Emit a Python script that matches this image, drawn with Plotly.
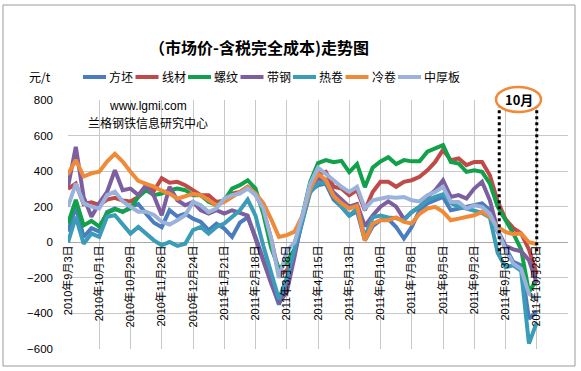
import plotly.graph_objects as go
from datetime import date, timedelta

# ---- categories (weekly) ----
start = date(2010, 9, 3)
categories = [f"{d.year}年{d.month}月{d.day}日" for d in (start + timedelta(weeks=k) for k in range(61))]
tick_labels = ["2010年9月3日", "2010年10月1日", "2010年10月29日", "2010年11月26日",
               "2010年12月24日", "2011年1月21日", "2011年2月18日", "2011年3月18日",
               "2011年4月15日", "2011年5月13日", "2011年6月10日", "2011年7月8日",
               "2011年8月5日", "2011年9月2日", "2011年9月30日", "2011年10月28日"]
y_ticks = [-600, -400, -200, 0, 200, 400, 600, 800]

# ---- series values (元/t) ----
fangpi = [60, 200, 30, 80, 60, 170, 190, 170, 200, 215, 160, 110, 85, 180, 145,
          161, 133, 114, 68, 105, 77, 30, 110, 140, 30,
          -100, -230, -350, -230, -60, 130, 290, 320,
          330, 240, 200, 150, 175, 10, 90, 124,
          130, 86, 21, 86, 180, 218, 236, 255,
          180, 190, 199, 208, 218, 180, 60, -30,
          -110, -130, -430, -390]
xiancai = [300, 330, 215, 225, 210, 240, 250, 235, 230, 255, 320, 290, 360, 335, 340,
           321, 293, 265, 265, 227, 235, 274, 283, 312, 275,
           180, 20, -180, -160, -60, 140, 320, 385,
           396, 312, 302, 265, 293, 180, 283, 340,
           340, 312, 340, 349, 368, 405, 452, 520,
           462, 471, 434, 452, 452, 377, 230, 130,
           80, 50, -40, -180]
luowen = [105, 238, 95, 120, 88, 165, 185, 172, 190, 255, 293, 265, 274, 293, 302,
          293, 265, 265, 227, 208, 236, 302, 321, 349, 302,
          160, -30, -150, -110, -40, 150, 340, 445,
          462, 450, 458, 395, 440, 310, 420, 455,
          478, 440, 462, 455, 455, 509, 527, 546,
          452, 443, 396, 405, 396, 330, 200, 130,
          50, -40, -280, -210]
daigang = [312, 537, 255, 143, 220, 283, 405, 293, 302, 265, 321, 260, 152, 312, 236,
           208, 227, 180, 161, 180, 161, 180, 165, 150, 20,
           -110, -230, -340, -280, -80, 140, 300, 360,
           350, 280, 240, 200, 215, 90, 150, 200,
           230, 200, 130, 170, 199, 255, 293, 349,
           255, 265, 246, 302, 340, 236, 68, -20,
           -40, -50, -100, -230]
rejuan = [0, 143, -8, 49, 30, 143, 152, 96, 49, 86, 49, 11, -17, 2, -20,
          -8, 68, 86, 49, 86, 105, 143, 180, 240, 150,
          -20, -180, -320, -200, -50, 120, 280, 330,
          340, 260, 200, 150, 190, 30, 140, 150,
          140, 135, 124, 170, 200, 236, 255, 270,
          220, 200, 190, 180, 165, 140, -60, -140,
          -130, -160, -570, -450]
lengjuan = [383, 463, 370, 388, 397, 454, 497, 454, 397, 345, 328, 313, 290, 274, 245,
            260, 272, 265, 236, 208, 227, 255, 283, 310, 275,
            220, 130, 30, 40, 60, 150, 300, 385,
            350, 260, 220, 190, 205, 10, 105, 124,
            124, 140, 115, 105, 160, 190, 199, 171,
            124, 133, 143, 152, 171, 143, 86, 58,
            45, 50, 0, -10]
zhonghouban = [200, 330, 220, 200, 190, 265, 285, 230, 200, 172, 172, 154, 115, 100, 124,
               152, 227, 208, 170, 190, 246, 265, 274, 302, 265,
               190, 20, -200, -50, 0, 150, 330, 420,
               387, 349, 312, 283, 312, 190, 236, 246,
               255, 250, 255, 236, 230, 265, 283, 312,
               227, 227, 190, 208, 199, 161, 68, -40,
               -120, -150, -290, -320]

series_names = ["方坯", "线材", "螺纹", "带钢", "热卷", "冷卷", "中厚板"]
series_values = [fangpi, xiancai, luowen, daigang, rejuan, lengjuan, zhonghouban]
series_colors = ["#4A7CBE", "#BE4B48", "#12A14B", "#7D5FA0", "#3A9CB8", "#F08A38", "#9BB3DC"]

FONT = "Liberation Sans, Noto Sans CJK SC, sans-serif"
CJK = "Noto Sans CJK SC, sans-serif"

fig = go.Figure()
for name, vals, col in zip(series_names, series_values, series_colors):
    assert len(vals) == len(categories)
    fig.add_trace(go.Scatter(x=categories, y=vals, name=name, mode="lines",
                             line=dict(color=col, width=4), showlegend=False))

L, R, T, B = 68, 13, 100, 22
W, H = 581, 371
pw, ph = W - L - R, H - T - B

def px(xp):
    return (xp - L) / pw

def py(yp):
    return (H - B - yp) / ph

fig.update_layout(
    width=W, height=H,
    margin=dict(l=L, r=R, t=T, b=B),
    paper_bgcolor="white", plot_bgcolor="white",
    font=dict(family=FONT, size=11, color="#000000"),
    title=dict(text="<b>（市场价-含税完全成本)走势图</b>", xref="container", yref="container",
               x=259 / W, y=1 - 48 / H, xanchor="center", yanchor="middle",
               font=dict(family=CJK, size=16, color="#000000")),
    showlegend=False,
    xaxis=dict(type="category", categoryorder="array", categoryarray=categories,
               range=[0, 64], tickmode="array", tickvals=tick_labels, ticktext=tick_labels,
               tickangle=-90, anchor="free", position=600 / 1400,
               showgrid=True, gridcolor="#C8C8C8", gridwidth=1,
               showline=False, ticks="", tickfont=dict(family=FONT, size=11),
               zeroline=False),
    yaxis=dict(range=[-600, 800], tickmode="array", tickvals=y_ticks,
               showgrid=True, gridcolor="#C8C8C8", gridwidth=1,
               zeroline=True, zerolinecolor="#A8A8A8", zerolinewidth=1,
               ticks="", ticklabelstandoff=14, tickfont=dict(family=FONT, size=11.5),
               showline=False),
)

# custom legend row (samples + names)
for k, (name, col) in enumerate(zip(series_names, series_colors)):
    x0 = 83 + 52.5 * k
    fig.add_shape(type="line", xref="paper", yref="paper",
                  x0=px(x0), x1=px(x0 + 23), y0=py(77), y1=py(77),
                  line=dict(color=col, width=4))
    fig.add_annotation(text=name, xref="paper", yref="paper", x=px(x0 + 24), y=py(77),
                       xanchor="left", yanchor="middle", showarrow=False,
                       font=dict(family=CJK, size=12))

# outer chart frame
fig.add_shape(type="rect", xref="paper", yref="paper",
              x0=px(3), x1=px(575), y0=py(366), y1=py(5),
              line=dict(color="#9A9A9A", width=1), fillcolor="rgba(0,0,0,0)", layer="below")

# dotted markers for October
for xv in (55.2, 60):
    fig.add_shape(type="line", xref="x", yref="y", x0=xv, x1=xv, y0=-50, y1=760,
                  line=dict(color="#000000", width=3, dash="dot"), layer="above")

# October ellipse label
fig.add_shape(type="circle", xref="paper", yref="paper",
              x0=px(496), x1=px(541), y0=py(112), y1=py(87),
              line=dict(color="#F08A38", width=2.5), fillcolor="white", layer="above")
fig.add_annotation(text="<b>10月</b>", xref="paper", yref="paper", x=px(518.5), y=py(99.5),
                   xanchor="center", yanchor="middle", showarrow=False,
                   font=dict(family=CJK, size=13, color="#000000"))

fig.add_annotation(text="元/t", xref="paper", yref="paper", x=px(40), y=py(77),
                   xanchor="center", yanchor="middle", showarrow=False,
                   font=dict(family=CJK, size=12))
fig.add_annotation(text="www.lgmi.com", xref="paper", yref="paper", x=px(148), y=py(106),
                   xanchor="center", yanchor="middle", showarrow=False,
                   font=dict(family=FONT, size=12))
fig.add_annotation(text="兰格钢铁信息研究中心", xref="paper", yref="paper", x=px(148), y=py(122),
                   xanchor="center", yanchor="middle", showarrow=False,
                   font=dict(family=CJK, size=12))

fig.write_html("out.html", config={"displayModeBar": False},
               post_script="document.body.style.margin='0';document.body.style.overflow='hidden';")
